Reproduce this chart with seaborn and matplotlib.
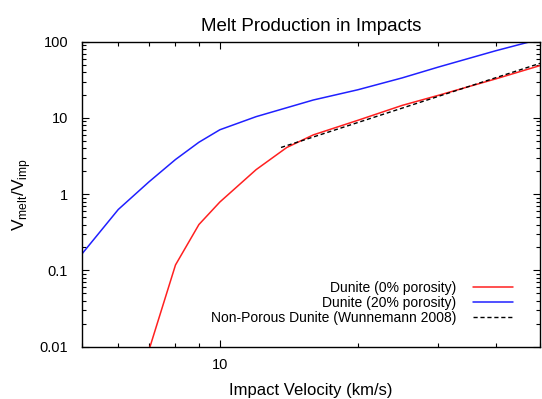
import numpy as np
import pandas as pd
import matplotlib
matplotlib.use("Agg")
import matplotlib.pyplot as plt
import seaborn as sns
from matplotlib.ticker import LogLocator, NullFormatter

# Data
vel_0 = [7, 8, 9, 10, 12, 14, 16, 20, 25, 30, 40, 50]
melt_0 = [0.009, 0.118, 0.40, 0.79, 2.1, 4.1, 6.0, 9.3, 14.6, 19.8, 32.5, 48.6]

vel_20 = [5, 6, 7, 8, 9, 10, 12, 16, 20, 25, 30, 40, 50]
melt_20 = [0.165, 0.63, 1.45, 2.85, 4.8, 7.0, 10.4, 17.2, 23.4, 33.5, 46.5, 76.0, 108.0]

vel_wun = [13.6, 50]
melt_wun = [4.1, 52.0]

labels = ["Dunite (0% porosity)", "Dunite (20% porosity)", "Non-Porous Dunite (Wunnemann 2008)"]
ytick_vals = [0.01, 0.1, 1, 10, 100]
ytick_labels = ["0.01", "0.1", "1", "10", "100"]
xtick_vals = [10]
xtick_labels = ["10"]

sns.set_theme(style="ticks")
plt.rcParams['font.family'] = ['Liberation Sans', 'DejaVu Sans']

fig = plt.figure(figsize=(5.42, 3.99), dpi=100)
ax = fig.add_axes([0.1513, 0.1311, 0.845, 0.7644])

sns.lineplot(x=vel_0, y=melt_0, color="#ff2020", lw=1.1, label=labels[0], ax=ax)
sns.lineplot(x=vel_20, y=melt_20, color="#2020ff", lw=1.1, label=labels[1], ax=ax)
sns.lineplot(x=vel_wun, y=melt_wun, color="black", lw=1.0, dashes=False, label=labels[2], ax=ax)
ax.lines[-1].set_dashes((3, 2))

ax.set_xscale("log")
ax.set_yscale("log")
ax.set_xlim(5, 50)
ax.set_ylim(0.01, 100)

ax.set_xticks(xtick_vals, labels=xtick_labels)
ax.set_yticks(ytick_vals, labels=ytick_labels)
ax.xaxis.set_minor_locator(LogLocator(base=10, subs=np.arange(2, 10)))
ax.yaxis.set_minor_locator(LogLocator(base=10, subs=np.arange(2, 10), numticks=20))
ax.xaxis.set_minor_formatter(NullFormatter())
ax.yaxis.set_minor_formatter(NullFormatter())

ax.tick_params(which="both", direction="in", top=True, right=True, color="black",
               labelsize=10.5, labelcolor="black", width=0.8)
ax.tick_params(which="major", length=5)
ax.tick_params(axis="x", which="major", pad=8)
ax.tick_params(axis="y", which="major", pad=10)
ax.tick_params(which="minor", length=3)
for sp in ax.spines.values():
    sp.set_visible(True)
    sp.set_color("black")
    sp.set_linewidth(1.0)

ax.set_title("Melt Production in Impacts", fontsize=13.5, color="black", pad=8)
ax.set_xlabel("Impact Velocity (km/s)", fontsize=12, color="black", labelpad=8)
ax.set_ylabel(r"V$_{\mathregular{melt}}$/V$_{\mathregular{imp}}$", fontsize=12.5, color="black", labelpad=5)

leg = ax.legend(loc="lower right", bbox_to_anchor=(0.941, 0.07), frameon=False,
                markerfirst=False, fontsize=10, handlelength=2.9, handletextpad=1.2,
                labelspacing=0.1, borderpad=0, borderaxespad=0)
for vp in leg._legend_box._children[-1]._children:
    vp.align = "right"
for t in leg.get_texts():
    t.set_color("black")

fig.savefig("out.png", dpi=100)
